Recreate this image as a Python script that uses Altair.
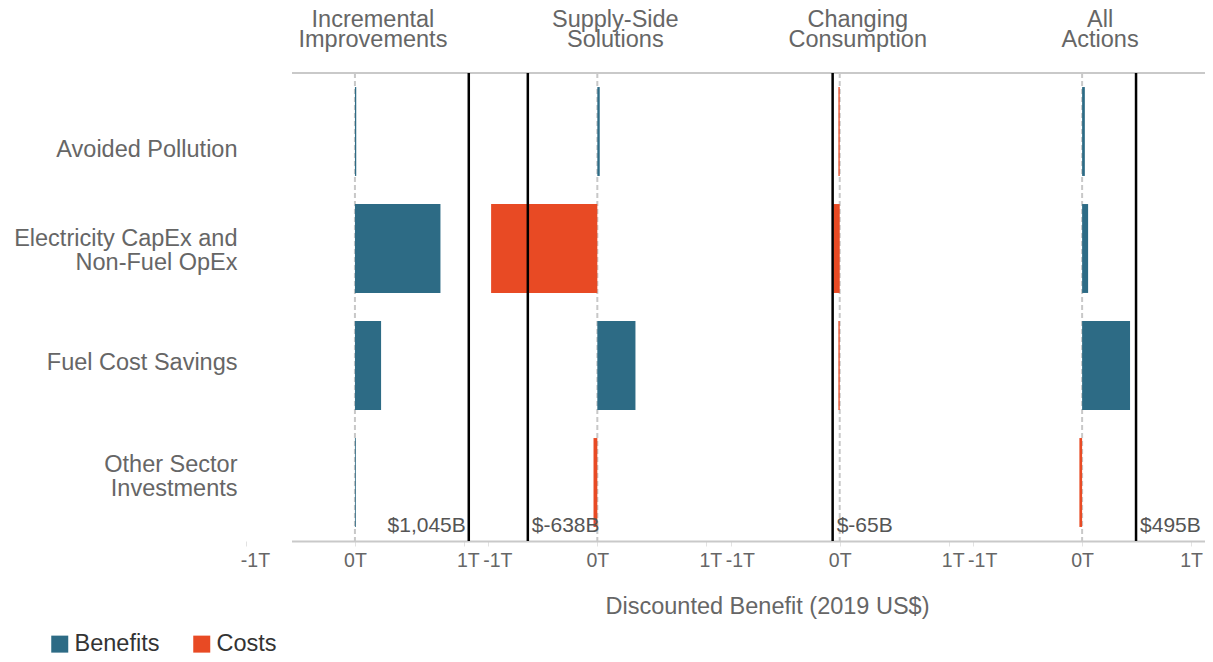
import altair as alt
import pandas as pd

# ---- data (values in trillions of 2019 US$) ----
panels = ["Incremental\nImprovements", "Supply-Side\nSolutions", "Changing\nConsumption", "All\nActions"]
categories = ["Avoided Pollution", "Electricity CapEx and\nNon-Fuel OpEx", "Fuel Cost Savings", "Other Sector\nInvestments"]
incremental = [0.012, 0.785, 0.240, 0.008]
supply_side = [0.022, -0.975, 0.350, -0.035]
changing = [-0.012, -0.058, -0.012, 0.0]
all_actions = [0.025, 0.055, 0.440, -0.025]
totals_b = [1045, -638, -65, 495]  # billions
tick_offsets = [-1, 0, 1]
legend_kinds = ["Benefits", "Costs"]
legend_colors = ["#2D6B85", "#E84A24"]

PITCH = 2.225  # spacing of panel origins on the shared x scale

rows = []
for i, vals in enumerate([incremental, supply_side, changing, all_actions]):
    for c, v in zip(categories, vals):
        rows.append({"panel": panels[i], "idx": i, "category": c, "value": v})
df = pd.DataFrame(rows)

tot = pd.DataFrame({
    "panel": panels,
    "idx": list(range(len(panels))),
    "total_b": totals_b,
    "label": [f"${t:,}B" for t in totals_b],
})

tick_vals = [round(i * PITCH + t, 4) for i in range(len(panels)) for t in tick_offsets]
xscale = alt.Scale(domain=[-1.055, 3 * PITCH + 1.128], nice=False, zero=False)
FONT = "Liberation Sans"
GRAY = "#666666"

rel = f"(datum.value - {PITCH} * round(datum.value / {PITCH}))"
tick_label_shift = {
    "condition": [
        {"test": f"datum.value > {3 * PITCH + 0.5}", "value": 0},
        {"test": f"{rel} < -0.5", "value": 9},
        {"test": f"{rel} > 0.5", "value": 4},
    ],
    "value": 0,
}

xaxis = alt.Axis(
    values=tick_vals,
    labelExpr=f"round({rel}) + 'T'",
    title="Discounted Benefit (2019 US$)",
    domain=False, grid=False,
    tickColor="#e2e2e2", tickSize=5, tickWidth=1,
    labelPadding=20, labelBaseline="alphabetic",
    labelFontSize=19.5, labelColor=GRAY, labelFont=FONT,
    labelFlush=False, labelOverlap=False, labelOffset=tick_label_shift,
    titleX=527, titleY=72, titleAlign="center", titleBaseline="alphabetic",
    titleFontSize=23.5, titleFontWeight="normal", titleColor=GRAY, titleFont=FONT,
)

row_label_shift = {
    "condition": [
        {"test": f"datum.value == {categories[0]!r}", "value": 18},
        {"test": f"datum.value == {categories[1]!r}", "value": -10},
        {"test": f"datum.value == {categories[2]!r}", "value": -3},
        {"test": f"datum.value == {categories[3]!r}", "value": -18},
    ],
    "value": 0,
}

bars = alt.Chart(df).transform_calculate(
    x0=f"datum.idx * {PITCH}",
    x1=f"datum.idx * {PITCH} + datum.value",
    kind="datum.value >= 0 ? 'Benefits' : 'Costs'",
).mark_bar().encode(
    x=alt.X("x0:Q", scale=xscale, axis=xaxis),
    x2="x1:Q",
    y=alt.Y("category:N", sort=categories,
            scale=alt.Scale(paddingInner=0.24, paddingOuter=0.12),
            axis=alt.Axis(title=None, labelExpr="split(datum.label, '\\n')",
                          labelFontSize=23.5, labelColor=GRAY, labelFont=FONT,
                          labelAlign="right", labelPadding=3, ticks=False,
                          domain=False, labelLineHeight=24.5, labelLimit=400,
                          labelOffset=row_label_shift)),
    color=alt.Color("kind:N",
                    scale=alt.Scale(domain=legend_kinds, range=legend_colors),
                    legend=alt.Legend(title=None, orient="none", legendX=-192, legendY=559,
                                      direction="horizontal", symbolType="square",
                                      symbolSize=289, symbolStrokeWidth=0, symbolOpacity=1,
                                      labelFontSize=23.5, labelColor="#333333", labelFont=FONT,
                                      columnPadding=30, labelOffset=3)),
)

zero_lines = alt.Chart(tot).transform_calculate(
    x0=f"datum.idx * {PITCH}"
).mark_rule(color="#c8c8c8", strokeDash=[5, 3], strokeWidth=2).encode(
    x=alt.X("x0:Q", scale=xscale, axis=xaxis)
)

frame = pd.DataFrame({"k": [0]})
top_line = alt.Chart(frame).mark_rule(color="#c9c9c9", strokeWidth=2).encode(
    x=alt.value(52), x2=alt.value(965), y=alt.value(0)
)
bottom_line = alt.Chart(frame).mark_rule(color="#c9c9c9", strokeWidth=2).encode(
    x=alt.value(52), x2=alt.value(965), y=alt.value(468.5)
)

total_rules = alt.Chart(tot).transform_calculate(
    x0=f"datum.idx * {PITCH} + datum.total_b / 1000"
).mark_rule(color="black", strokeWidth=2.5).encode(
    x=alt.X("x0:Q", scale=xscale, axis=xaxis)
)

label_base = alt.Chart(tot).transform_calculate(
    x0=f"datum.idx * {PITCH} + datum.total_b / 1000"
)
labels_right = label_base.transform_filter("datum.total_b > 900").mark_text(
    align="right", dx=-3, baseline="alphabetic", fontSize=21, color="#555555", font=FONT
).encode(x=alt.X("x0:Q", scale=xscale, axis=xaxis), y=alt.value(459), text="label:N")
labels_left = label_base.transform_filter("datum.total_b <= 900").mark_text(
    align="left", dx=4, baseline="alphabetic", fontSize=21, color="#555555", font=FONT
).encode(x=alt.X("x0:Q", scale=xscale, axis=xaxis), y=alt.value(459), text="label:N")

headers = alt.Chart(tot).transform_calculate(
    x0=f"datum.idx * {PITCH}"
).mark_text(
    lineBreak="\n", align="center", baseline="alphabetic", dx=18,
    fontSize=23.5, lineHeight=20.5, color=GRAY, font=FONT
).encode(x=alt.X("x0:Q", scale=xscale, axis=xaxis), y=alt.value(-46.5), text="panel:N")

chart = alt.layer(
    zero_lines, top_line, bottom_line, bars, total_rules, labels_right, labels_left, headers
).properties(
    width=965, height=468,
    autosize=alt.AutoSizeParams(type="none"),
    padding={"left": 232, "top": 65, "right": 0, "bottom": 113},
).configure(font=FONT).configure_view(stroke=None)

chart.save("out.html", embed_options={"renderer": "svg", "actions": False})
